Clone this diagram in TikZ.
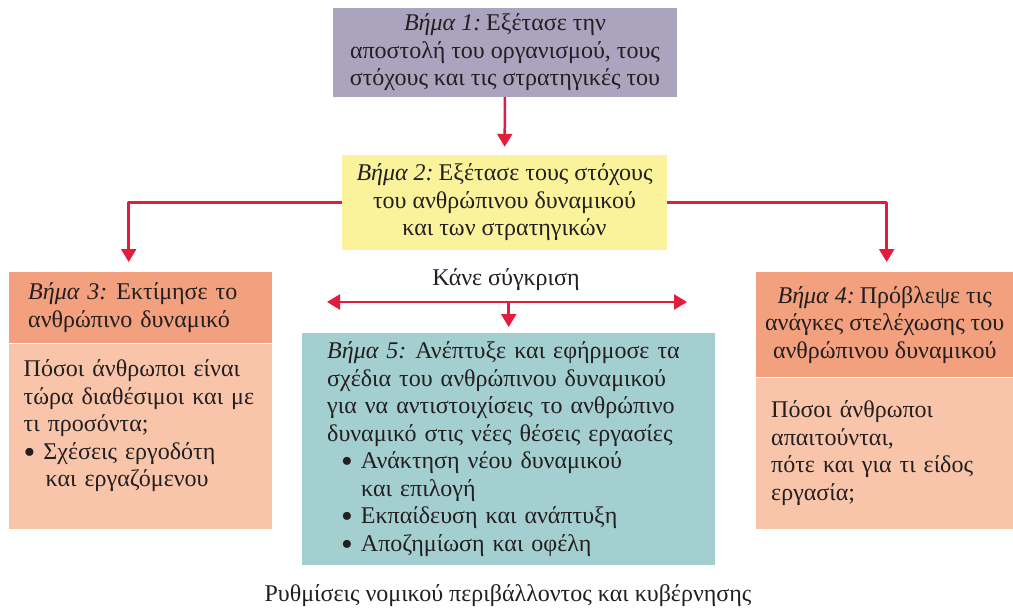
\documentclass[tikz,border=0pt]{standalone}
\usepackage{fontspec}
\setmainfont{Liberation Serif}
\usetikzlibrary{arrows.meta}
\definecolor{ink}{HTML}{231F20}
\definecolor{arrred}{HTML}{E31B3D}
\definecolor{stepone}{HTML}{ABA4BE}
\definecolor{steptwo}{HTML}{FBF39B}
\definecolor{headfill}{HTML}{F2A07E}
\definecolor{bodyfill}{HTML}{F9C5AA}
\definecolor{stepfive}{HTML}{A4CFD1}
\newcommand{\blt}{\smash{\raisebox{-0.17em}{\scalebox{1.4}{\textbullet}}}}
\newcommand{\stepname}[1]{{\itshape Βήμα #1:}\kern-3pt\relax}
\begin{document}
\begin{tikzpicture}[x=1pt, y=-1pt, font=\fontsize{24}{27.5}\selectfont, line join=round, >={Triangle[width=15pt,length=13pt]},
	box/.style={inner sep=0pt, text=ink, align=center},
	leftbox/.style={box, align=left, anchor=north west},
	arr/.style={draw=arrred, line width=2.5pt, ->, shorten >=#1},
	arr/.default=8pt]
	\useasboundingbox (0,0) rectangle (1013,610);
	% the five steps
	\node[box, fill=stepone, minimum width=344pt, minimum height=89pt] (s1) at (505,52.5)
		{\stepname{1} Εξέτασε την\\ αποστολή του οργανισμού, τους\\ στόχους και τις στρατηγικές του};
	\node[box, fill=steptwo, minimum width=325pt, minimum height=95pt] (s2) at (504.5,202.5)
		{\stepname{2} Εξέτασε τους στόχους\\ του ανθρώπινου δυναμικού\\ και των στρατηγικών};
	\node[leftbox, fill=headfill, text width=225pt, inner xsep=19pt, minimum height=71pt] (s3head) at (9,272)
		{\stepname{3} Εκτίμησε το\\ ανθρώπινο δυναμικό};
	\node[leftbox, fill=bodyfill, text width=234pt, inner xsep=14.5pt, minimum height=185pt] (s3body) at (s3head.south west)
		{Πόσοι άνθρωποι είναι\\ τώρα διαθέσιμοι και με\\ τι προσόντα;\\ \blt\hspace{8pt}Σχέσεις εργοδότη\\ \hspace*{22pt}και εργαζόμενου\par\vspace{20pt}};
	\node[leftbox, fill=headfill, align=center, minimum width=257pt, minimum height=105pt] (s4head) at (756,272)
		{\stepname{4} Πρόβλεψε τις\\ ανάγκες στελέχωσης του\\ ανθρώπινου δυναμικού};
	\node[leftbox, fill=bodyfill, text width=227pt, inner xsep=15pt, minimum height=151pt] (s4body) at (s4head.south west)
		{Πόσοι άνθρωποι\\ απαιτούνται,\\ πότε και για τι είδος\\ εργασία;};
	\node[leftbox, fill=stepfive, text width=363pt, inner xsep=25pt, minimum height=232pt] (s5) at (302,333)
		{\stepname{5} Ανέπτυξε και εφήρμοσε τα\\ σχέδια του ανθρώπινου δυναμικού\\ για να αντιστοιχίσεις το ανθρώπινο\\ δυναμικό στις νέες θέσεις εργασίες\\
		\hspace*{14pt}\blt\hspace{8pt}Ανάκτηση νέου δυναμικού\\ \hspace*{34pt}και επιλογή\\
		\hspace*{14pt}\blt\hspace{8pt}Εκπαίδευση και ανάπτυξη\\ \hspace*{14pt}\blt\hspace{8pt}Αποζημίωση και οφέλη};
	\node[text=ink] (cmp) at (506,280) {Κάνε σύγκριση};
	\node[text=ink] (law) at (508,596) {Ρυθμίσεις νομικού περιβάλλοντος και κυβέρνησης};
	\coordinate (cmpL) at (327,302);
	\coordinate (cmpR) at (687,302);
	% connectors
	\draw[arr] (s1) -- (s2);
	\draw[arr=10pt] (s2.west) -| ([xshift=-12pt]s3head.north);
	\draw[arr=10pt] (s2.east) -| ([xshift=2pt]s4head.north);
	\draw[arr=0pt, <->] (cmpL) -- (cmpR);
	\draw[arr=6pt] (cmpL -| s5.north) -- (s5.north);
\end{tikzpicture}
\end{document}
